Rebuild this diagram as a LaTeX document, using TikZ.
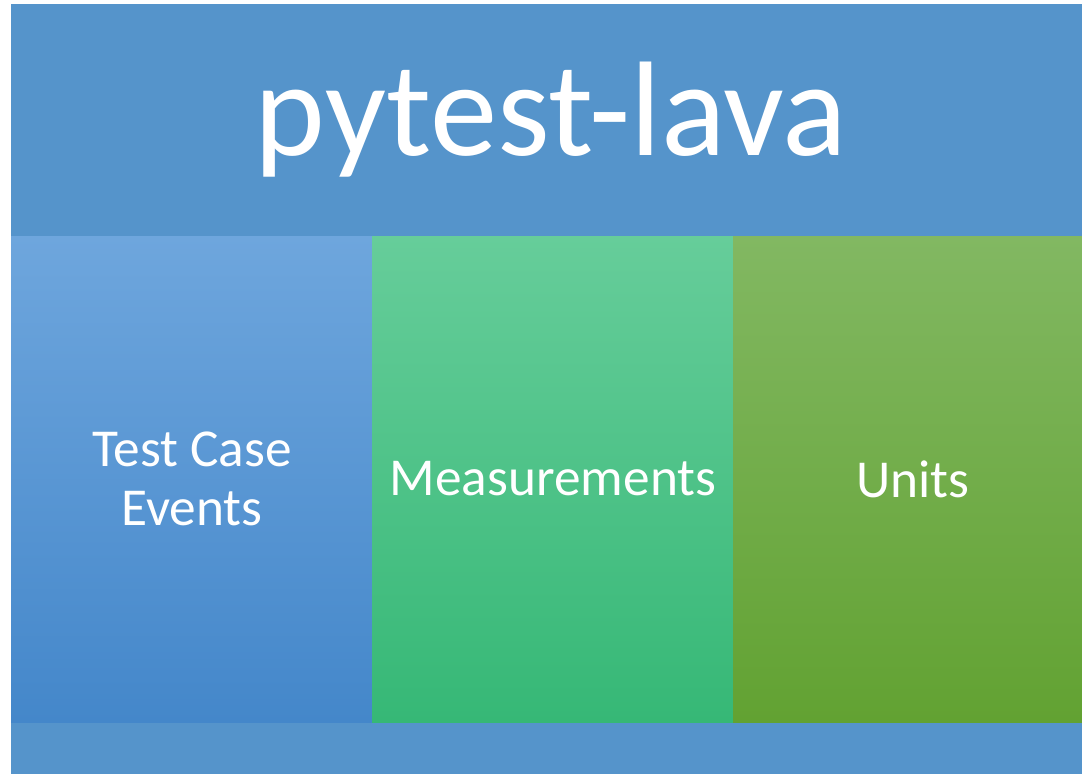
\documentclass[tikz,border=0pt]{standalone}
\usepackage{fontspec}
\setmainfont{Carlito}
\definecolor{bandblue}{HTML}{5594CB}
\definecolor{btop}{HTML}{6EA6DD}
\definecolor{bbot}{HTML}{4487CA}
\definecolor{gtop}{HTML}{66CD9A}
\definecolor{gbot}{HTML}{36B876}
\definecolor{ltop}{HTML}{82B862}
\definecolor{lbot}{HTML}{62A232}
\tikzset{
  coltext/.style={text=white, font=\fontsize{40}{44}\selectfont, align=center},
}
\begin{document}
\begin{tikzpicture}[x=0.75pt,y=-0.75pt]
\useasboundingbox (0,0) rectangle (1082,774);
\fill[white] (0,0) rectangle (1082,774);
\fill[bandblue] (11,4) rectangle (1082,774);
\shade[top color=btop, bottom color=bbot] (11,236) rectangle (372,722);
\shade[top color=gtop, bottom color=gbot] (372,236) rectangle (733,722);
\shade[top color=ltop, bottom color=lbot] (733,236) rectangle (1082,722);
\node[text=white, font=\fontsize{101}{104}\selectfont] (title) at (551,120) {pytest-lava};
\node[coltext] (events) at (192,479) {Test Case\\Events};
\node[coltext] (meas) at (553,479) {Measurements};
\node[coltext] (units) at (913,479) {Units};
\end{tikzpicture}
\end{document}
